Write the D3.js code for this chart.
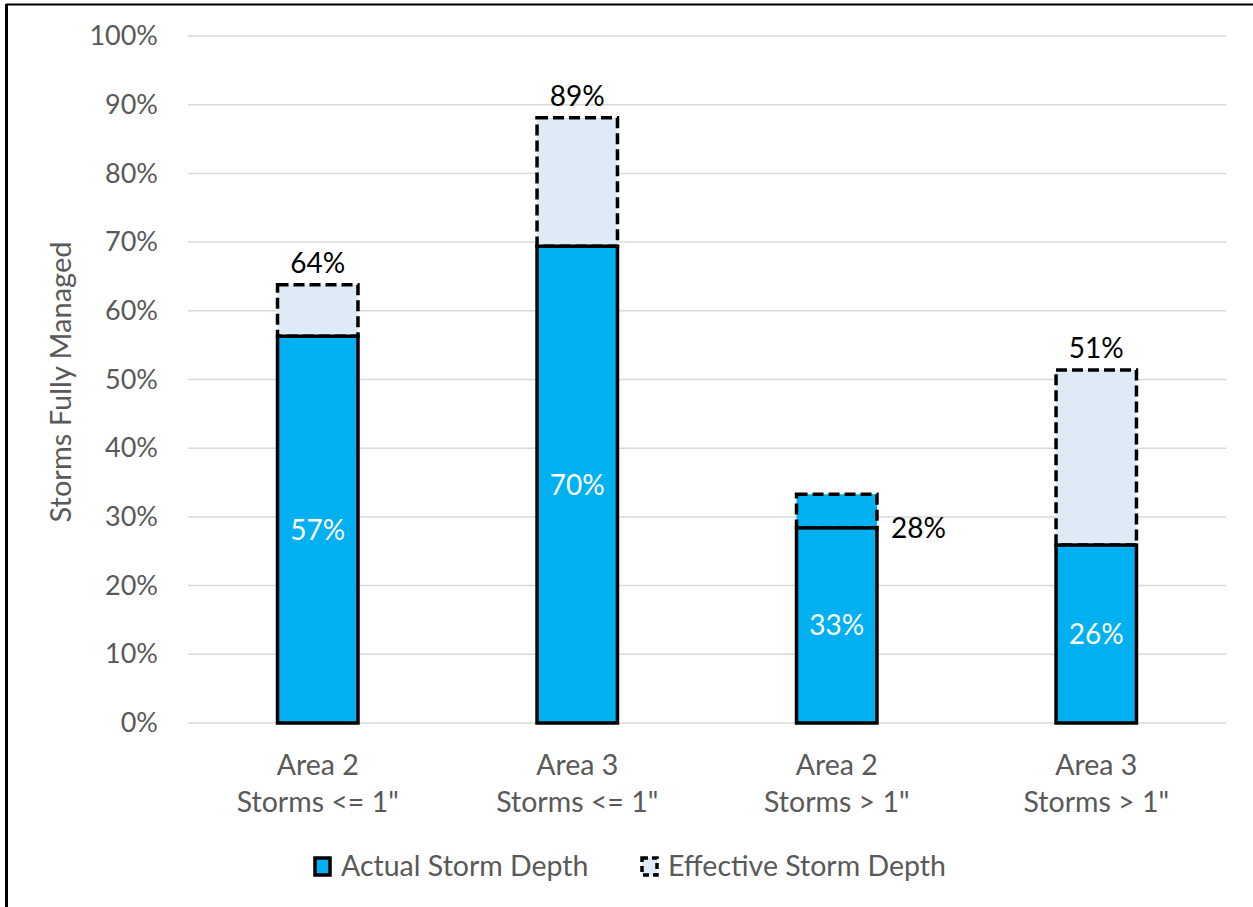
<!DOCTYPE html>
<html lang="en">
<head>
  <meta charset="UTF-8">
  <title>Storms Fully Managed</title>
  <script src="https://d3js.org/d3.v7.min.js"></script>
  <style>
    body { margin: 0; background: white; }
    text { font-family: Lato, 'Open Sans', sans-serif; }
    .tick line, .domain { display: none; }
  </style>
</head>
<body>
  <svg width="1253" height="907"></svg>

  <script>
    // The data
    const categories = [
      ["Area 2", "Storms <= 1\""],
      ["Area 3", "Storms <= 1\""],
      ["Area 2", "Storms > 1\""],
      ["Area 3", "Storms > 1\""]
    ];
    const actual = [56.3, 69.4, 33.3, 25.9];
    const effective = [63.8, 88.1, 28.4, 51.4];
    const actualLabels = ["57%", "70%", "33%", "26%"];
    const effectiveLabels = ["64%", "89%", "28%", "51%"];
    const yTicks = [0, 10, 20, 30, 40, 50, 60, 70, 80, 90, 100];

    const blue = "#00B0F0", light = "#DEEBF7", grey = "#595959";

    const svg = d3.select("svg");
    const margin = { top: 36, right: 27, bottom: 184, left: 188 };
    const width = +svg.attr("width") - margin.left - margin.right;
    const height = +svg.attr("height") - margin.top - margin.bottom;

    // chart frame (only top and left edges show)
    svg.append("line").attr("x1", 6).attr("x2", 1253).attr("y1", 4.5).attr("y2", 4.5)
      .attr("stroke", "black").attr("stroke-width", 2);
    svg.append("line").attr("x1", 6.5).attr("x2", 6.5).attr("y1", 4).attr("y2", 907)
      .attr("stroke", "black").attr("stroke-width", 3);

    const g = svg.append("g").attr("transform", `translate(${margin.left},${margin.top})`);

    const x = d3.scaleBand()
      .domain(d3.range(categories.length))
      .range([0, width])
      .paddingInner(0.69)
      .paddingOuter(0.345);

    const y = d3.scaleLinear().domain([0, 100]).range([height, 0]);

    // gridlines
    g.append("g").selectAll("line").data(yTicks).join("line")
      .attr("x1", 0).attr("x2", width)
      .attr("y1", d => y(d)).attr("y2", d => y(d))
      .attr("stroke", "#d9d9d9").attr("stroke-width", 1.5);

    // y axis
    g.append("g")
      .call(d3.axisLeft(y).tickValues(yTicks).tickFormat(d => d + "%").tickSize(0).tickPadding(30))
      .selectAll("text")
      .attr("fill", grey).style("font-size", "27px");

    // x axis labels
    const xa = g.append("g").attr("transform", `translate(0,${height})`);
    xa.selectAll("text").data(categories).join("text")
      .attr("x", (d, i) => x(i) + x.bandwidth() / 2)
      .attr("y", 52)
      .attr("text-anchor", "middle")
      .attr("fill", grey).style("font-size", "28.5px")
      .selectAll("tspan").data(d => d).join("tspan")
      .attr("x", function () { return d3.select(this.parentNode).attr("x"); })
      .attr("dy", (d, i) => i === 0 ? 0 : 37)
      .text(d => d);

    const rows = categories.map((c, i) => ({
      i, a: actual[i], e: effective[i],
      lo: Math.min(actual[i], effective[i]),
      hi: Math.max(actual[i], effective[i])
    }));

    // upper segment (dashed outline)
    g.selectAll(".upper").data(rows).join("rect")
      .attr("class", "upper")
      .attr("x", d => x(d.i)).attr("width", x.bandwidth())
      .attr("y", d => y(d.hi)).attr("height", d => y(d.lo) - y(d.hi))
      .attr("fill", d => d.a > d.e ? blue : light)
      .attr("stroke", "black").attr("stroke-width", 3.5)
      .attr("stroke-dasharray", "11,5");

    // lower segment (solid outline)
    g.selectAll(".lower").data(rows).join("rect")
      .attr("class", "lower")
      .attr("x", d => x(d.i)).attr("width", x.bandwidth())
      .attr("y", d => y(d.lo)).attr("height", d => height - y(d.lo))
      .attr("fill", blue)
      .attr("stroke", "black").attr("stroke-width", 3.5);

    // actual labels (inside, white)
    g.selectAll(".alab").data(rows).join("text")
      .attr("x", d => x(d.i) + x.bandwidth() / 2)
      .attr("y", d => y(d.lo / 2) + 10)
      .attr("text-anchor", "middle")
      .attr("fill", "white").style("font-size", "28px")
      .text(d => actualLabels[d.i]);

    // effective labels (black)
    g.selectAll(".elab").data(rows).join("text")
      .attr("x", d => d.e < d.a ? x(d.i) + x.bandwidth() + 14 : x(d.i) + x.bandwidth() / 2)
      .attr("y", d => d.e < d.a ? y(d.e) + 10 : y(d.e) - 12)
      .attr("text-anchor", d => d.e < d.a ? "start" : "middle")
      .attr("fill", "black").style("font-size", "28px")
      .text(d => effectiveLabels[d.i]);

    // y axis title
    svg.append("text")
      .attr("transform", "translate(71,382) rotate(-90)")
      .attr("text-anchor", "middle")
      .attr("fill", grey).style("font-size", "29px")
      .text("Storms Fully Managed");

    // legend
    const legend = [
      { name: "Actual Storm Depth", fill: blue, dash: null, x: 315 },
      { name: "Effective Storm Depth", fill: light, dash: "6,4", x: 642 }
    ];
    const lg = svg.append("g").selectAll("g").data(legend).join("g")
      .attr("transform", d => `translate(${d.x},858)`);
    lg.append("rect")
      .attr("width", 15).attr("height", 17)
      .attr("fill", d => d.fill).attr("stroke", "black").attr("stroke-width", 3.5)
      .attr("stroke-dasharray", d => d.dash);
    lg.append("text")
      .attr("x", 26).attr("y", 18)
      .attr("fill", grey).style("font-size", "28.5px")
      .text(d => d.name);
  </script>
</body>
</html>
